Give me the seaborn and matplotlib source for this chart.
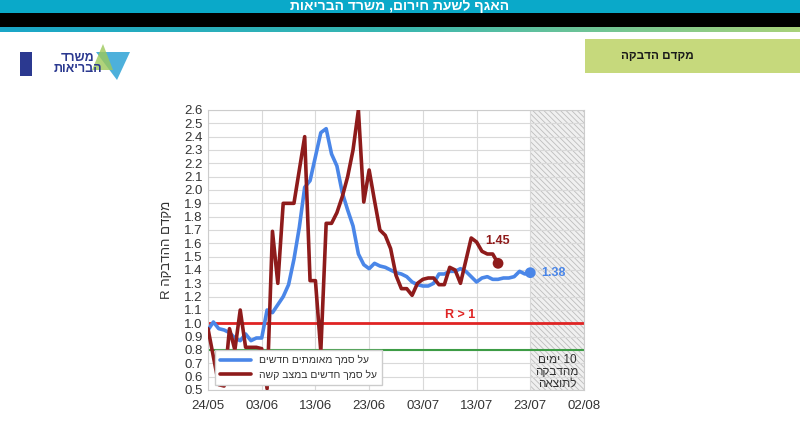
import re
import numpy as np
import pandas as pd
import matplotlib
matplotlib.use('Agg')
import matplotlib.pyplot as plt
import matplotlib.dates as mdates
from matplotlib.patches import Rectangle, Polygon
from matplotlib.ticker import MultipleLocator, FormatStrFormatter
import seaborn as sns

# ---------------- data ----------------
start_date = '2020-05-24'
blue_name = 'על סמך מאומתים חדשים'
red_name = 'על סמך חדשים במצב קשה'
blue_values = [0.95, 1.01, 0.96, 0.95, 0.93, 0.89, 0.87, 0.92, 0.87, 0.89,
               0.89, 1.10, 1.08, 1.14, 1.20, 1.29, 1.48, 1.72, 2.02, 2.07,
               2.25, 2.43, 2.46, 2.27, 2.18, 1.98, 1.85, 1.73, 1.52, 1.44,
               1.41, 1.45, 1.43, 1.42, 1.40, 1.38, 1.37, 1.35, 1.31, 1.29,
               1.28, 1.28, 1.30, 1.37, 1.37, 1.39, 1.39, 1.41, 1.39, 1.35,
               1.31, 1.34, 1.35, 1.33, 1.33, 1.34, 1.34, 1.35, 1.39, 1.37,
               1.38]
red_values = [0.96, 0.75, 0.54, 0.53, 0.96, 0.80, 1.10, 0.82, 0.82, 0.82,
              0.81, 0.51, 1.69, 1.30, 1.90, 1.90, 1.90, 2.15, 2.40, 1.32,
              1.32, 0.79, 1.75, 1.75, 1.83, 1.95, 2.10, 2.30, 2.60, 1.91,
              2.15, 1.92, 1.70, 1.66, 1.56, 1.36, 1.26, 1.26, 1.21, 1.30,
              1.33, 1.34, 1.34, 1.29, 1.29, 1.42, 1.40, 1.30, 1.47, 1.64,
              1.61, 1.54, 1.52, 1.52, 1.45]
tick_dates = ['2020-05-24', '2020-06-03', '2020-06-13', '2020-06-23',
              '2020-07-03', '2020-07-13', '2020-07-23', '2020-08-02']
shade_start, shade_end = '2020-07-23', '2020-08-02'
threshold_red = 1.0
threshold_green = 0.8
y_min, y_max = 0.5, 2.6

header_text = 'האגף לשעת חירום, משרד הבריאות'
box_text = 'מקדם הדבקה'
ylabel_text = 'מקדם ההדבקה R'
shade_lines = ['10 ימים', 'מהדבקה', 'לתוצאה']
logo_lines = ['משרד', 'הבריאות']

BLUE = '#4a86e8'
RED = '#8e1b1b'


def rtl(s):
    r = s[::-1]
    return re.sub(r'[0-9A-Za-z.]+', lambda m: m.group(0)[::-1], r)


# ---------------- frame ----------------
sns.set_style('whitegrid')
plt.rcParams['font.family'] = ['Liberation Sans', 'DejaVu Sans']
plt.rcParams['hatch.linewidth'] = 0.6

fig = plt.figure(figsize=(8, 4.29), dpi=100)
W, H = 800, 429


def fx(px):
    return px / W


def fy(py):
    return 1 - py / H


# header bars
fig.patches.append(Rectangle((0, fy(13)), 1, 13 / H, transform=fig.transFigure,
                             facecolor='#0aa9c9', edgecolor='none'))
fig.patches.append(Rectangle((0, fy(27)), 1, 14 / H, transform=fig.transFigure,
                             facecolor='#000000', edgecolor='none'))
grad_ax = fig.add_axes([0, fy(32), 1, 5 / H])
grad_ax.imshow(np.linspace(0, 1, 256)[None, :], aspect='auto',
               cmap=matplotlib.colors.LinearSegmentedColormap.from_list(
                   'g', ['#1aa6c8', '#39b7b0', '#a9d27a']))
grad_ax.axis('off')
fig.text(0.5, fy(6), rtl(header_text), color='white', fontsize=10,
         fontweight='bold', ha='center', va='center')

# green title box
fig.patches.append(Rectangle((fx(585), fy(73)), 1 - fx(585), 34 / H,
                             transform=fig.transFigure,
                             facecolor='#c6d97c', edgecolor='none'))
fig.text(fx(657), fy(56), rtl(box_text), color='#1a1a1a', fontsize=8.5,
         fontweight='bold', ha='center', va='center')

# logo
fig.patches.append(Rectangle((fx(20), fy(76)), 12 / W, 24 / H,
                             transform=fig.transFigure,
                             facecolor='#2b3990', edgecolor='none'))
fig.text(fx(78), fy(58), rtl(logo_lines[0]), color='#2b3990', fontsize=9,
         fontweight='bold', ha='center', va='center')
fig.text(fx(78), fy(69), rtl(logo_lines[1]), color='#2b3990', fontsize=9,
         fontweight='bold', ha='center', va='center')
fig.patches.append(Polygon([(fx(96), fy(52)), (fx(130), fy(52)), (fx(117), fy(80))],
                           closed=True, transform=fig.transFigure,
                           facecolor='#3aa8d8', edgecolor='none', alpha=0.9))
fig.patches.append(Polygon([(fx(103), fy(44)), (fx(113), fy(70)), (fx(92), fy(70))],
                           closed=True, transform=fig.transFigure,
                           facecolor='#9cc85a', edgecolor='none', alpha=0.8))

# ---------------- chart ----------------
ax = fig.add_axes([fx(208), fy(390), fx(584) - fx(208), (390 - 110) / H])

blue_dates = pd.date_range(start_date, periods=len(blue_values))
red_dates = pd.date_range(start_date, periods=len(red_values))
df = pd.concat([
    pd.DataFrame({'date': blue_dates, 'R': blue_values, 'series': rtl(blue_name)}),
    pd.DataFrame({'date': red_dates, 'R': red_values, 'series': rtl(red_name)}),
], ignore_index=True)

ax.axvspan(pd.Timestamp(shade_start), pd.Timestamp(shade_end),
           facecolor='#f0f0f0', edgecolor='#bdbdbd', hatch='\\\\\\\\\\\\',
           lw=0, zorder=0.4)

ax.axhline(threshold_red, color='#e02424', lw=2, zorder=2)
ax.axhline(threshold_green, color='#3d9c45', lw=1.5, zorder=2)

sns.lineplot(data=df, x='date', y='R', hue='series',
             palette={rtl(blue_name): BLUE, rtl(red_name): RED},
             linewidth=2.6, ax=ax, zorder=3)

last_blue = df[df.series == rtl(blue_name)].iloc[[-1]]
last_red = df[df.series == rtl(red_name)].iloc[[-1]]
sns.scatterplot(data=last_blue, x='date', y='R', color=BLUE, s=60,
                edgecolor='none', ax=ax, zorder=4, legend=False)
sns.scatterplot(data=last_red, x='date', y='R', color=RED, s=60,
                edgecolor='none', ax=ax, zorder=4, legend=False)

ax.annotate(f"{blue_values[-1]:.2f}", (blue_dates[-1], blue_values[-1]),
            xytext=(8, 0), textcoords='offset points', color=BLUE,
            fontsize=9, fontweight='bold', va='center', ha='left')
ax.annotate(f"{red_values[-1]:.2f}", (red_dates[-1], red_values[-1]),
            xytext=(0, 12), textcoords='offset points', color=RED,
            fontsize=9, fontweight='bold', va='bottom', ha='center')
ax.text(pd.Timestamp('2020-07-10'), threshold_red + 0.015, 'R > 1',
        color='#e02424', fontsize=9, fontweight='bold', ha='center', va='bottom')

shade_mid = pd.Timestamp(shade_start) + (pd.Timestamp(shade_end) - pd.Timestamp(shade_start)) / 2
ax.text(shade_mid, 0.635, '\n'.join(rtl(s) for s in shade_lines),
        ha='center', va='center', fontsize=8.5, color='#333333', linespacing=1.0)

ax.set_xlim(pd.Timestamp(tick_dates[0]), pd.Timestamp(tick_dates[-1]))
ax.set_ylim(y_min, y_max)
ax.set_xticks([pd.Timestamp(d) for d in tick_dates])
ax.xaxis.set_major_formatter(mdates.DateFormatter('%d/%m'))
ax.yaxis.set_major_locator(MultipleLocator(0.1))
ax.yaxis.set_major_formatter(FormatStrFormatter('%.1f'))
ax.tick_params(axis='both', labelsize=9.5, colors='#333333', length=0)
ax.tick_params(axis='x', pad=7)
ax.tick_params(axis='y', pad=4)
ax.grid(True, color='#d9d9d9', lw=0.8)
ax.set_axisbelow(True)
for s in ax.spines.values():
    s.set_color('#cccccc')
    s.set_linewidth(0.8)
ax.set_xlabel('')
ax.set_ylabel(rtl(ylabel_text), fontsize=9.5, color='#333333', labelpad=8)

leg = ax.legend(loc='lower left', bbox_to_anchor=(0.005, 0.0), fontsize=7.5,
                frameon=True, framealpha=1, edgecolor='#cccccc', fancybox=False,
                borderpad=0.45, labelspacing=0.45, handlelength=3.0,
                handletextpad=0.8)
leg.set_title(None)
for t in leg.get_texts():
    t.set_color('#333333')
for line in leg.get_lines():
    line.set_linewidth(2.6)

fig.savefig('out.png', dpi=100)
